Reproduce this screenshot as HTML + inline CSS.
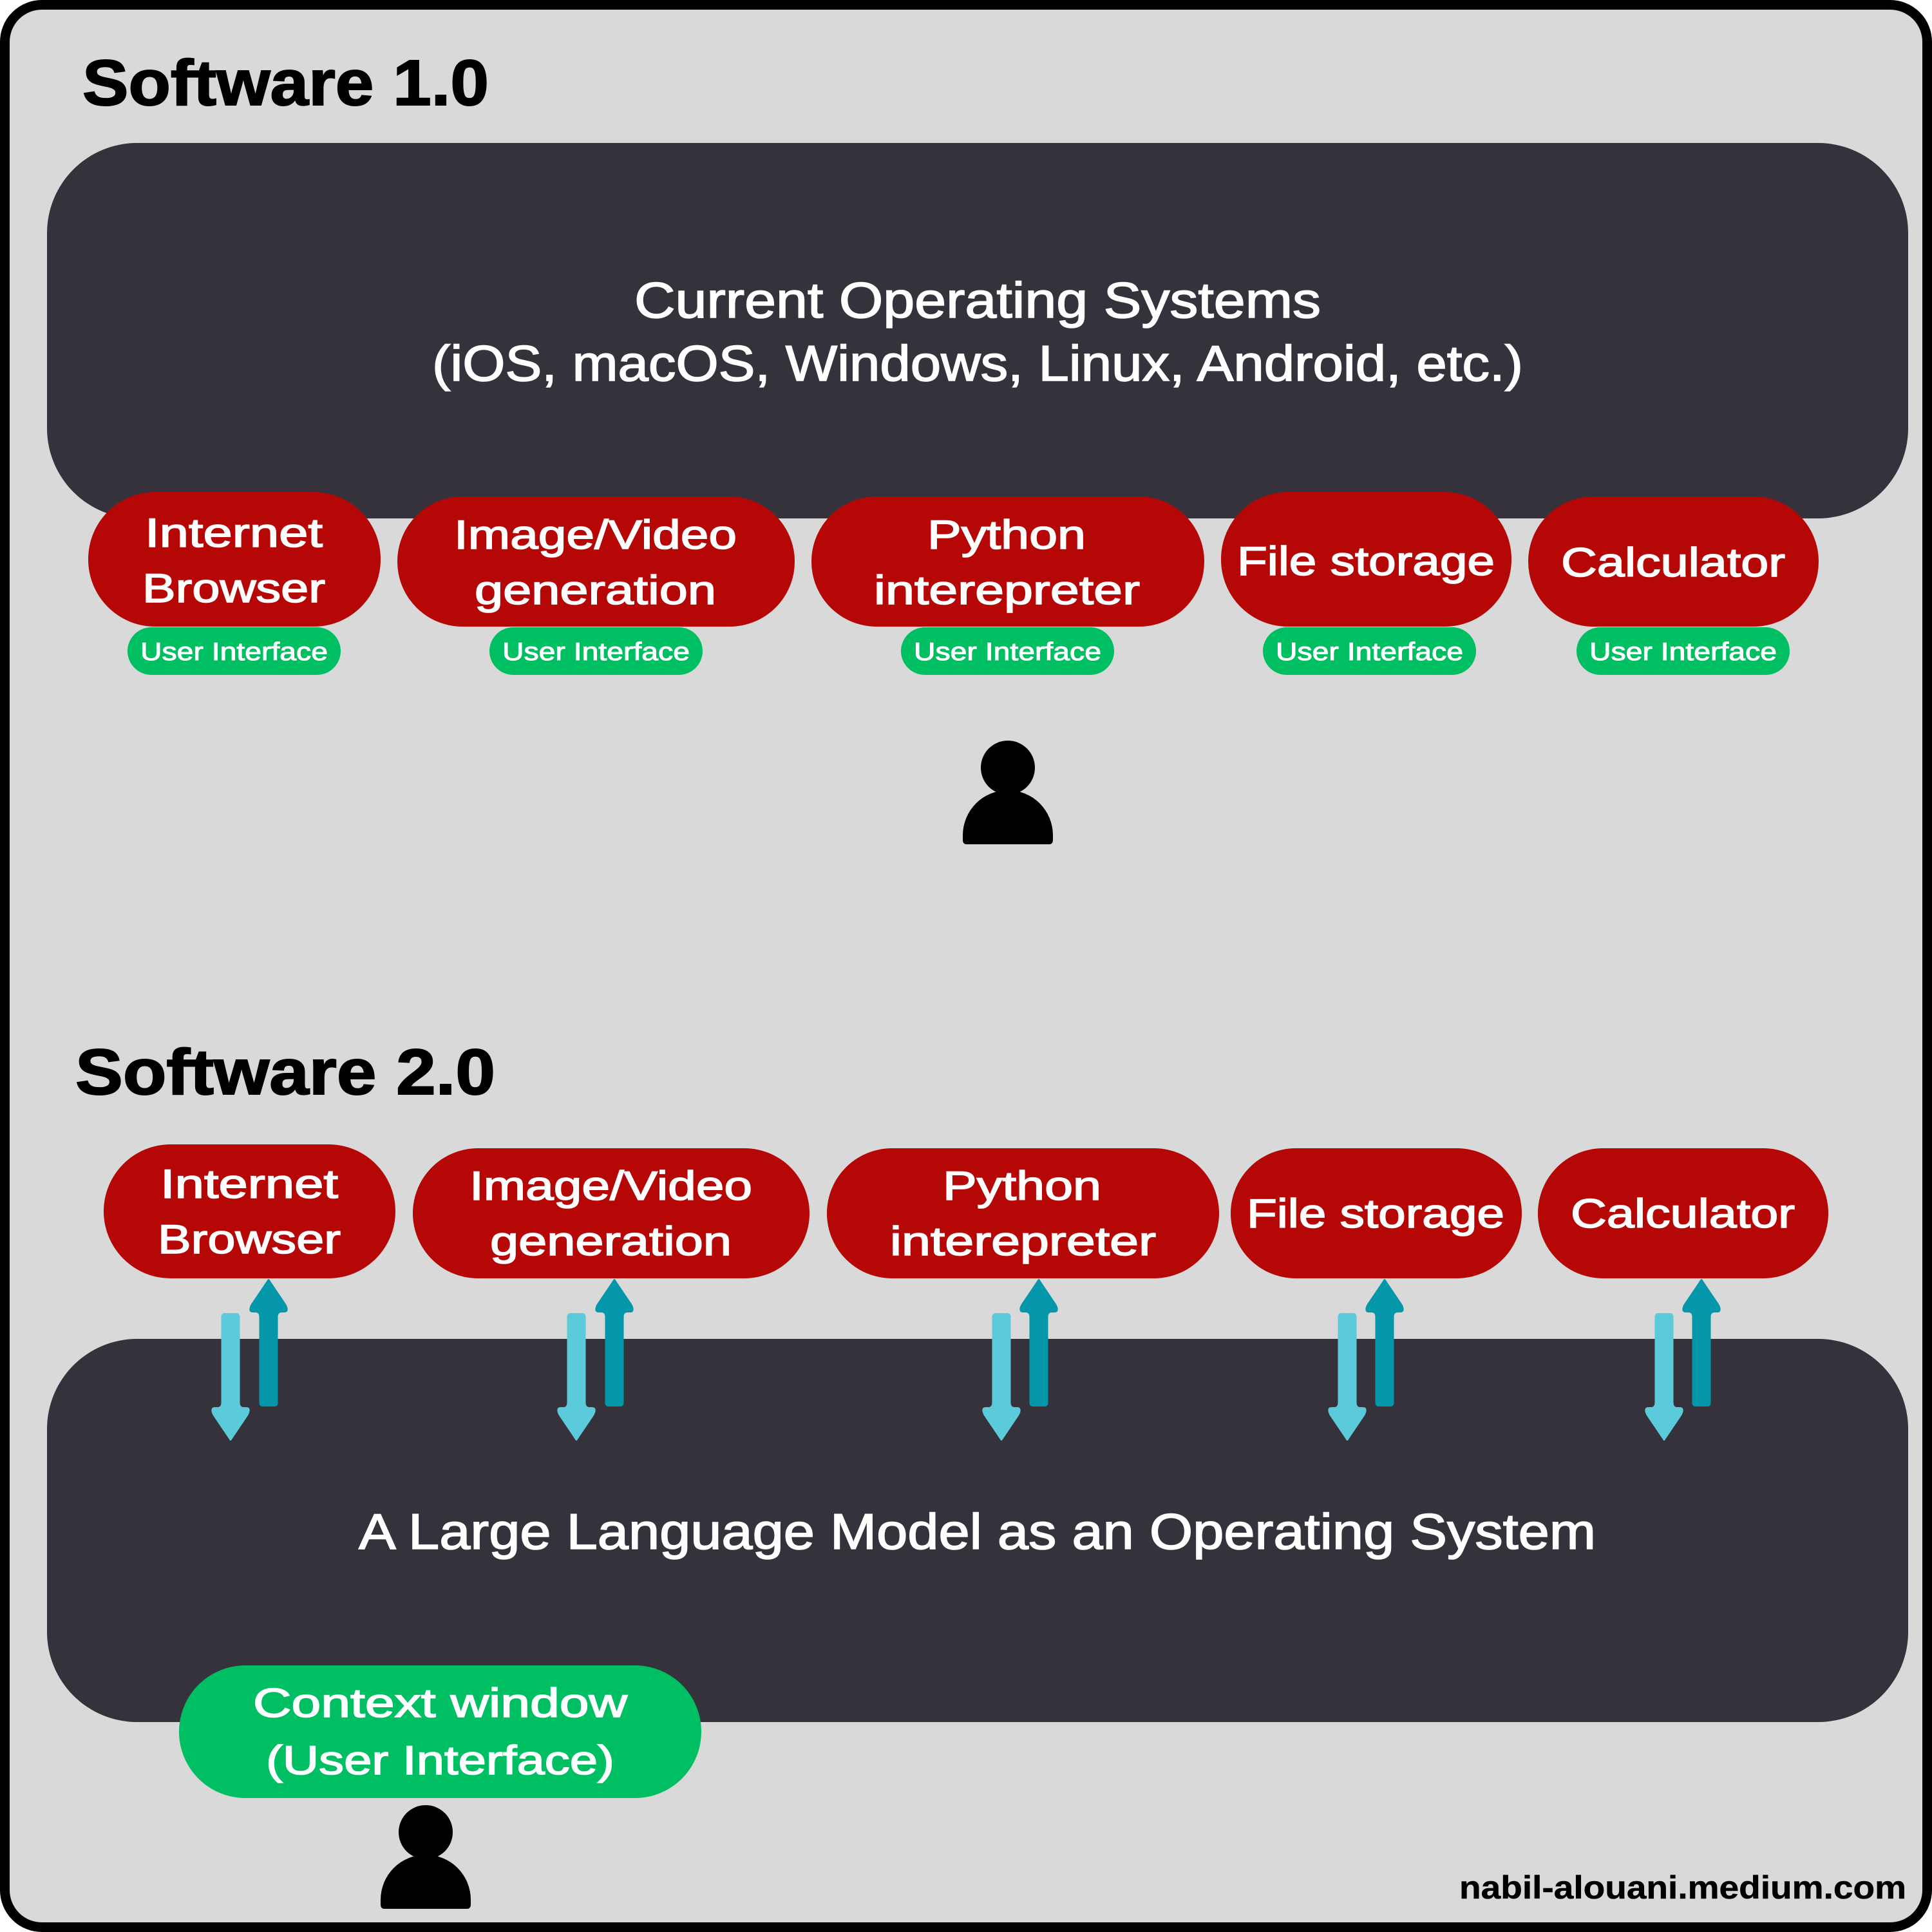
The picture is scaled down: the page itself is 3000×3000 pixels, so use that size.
<!DOCTYPE html>
<html><head><meta charset="utf-8"><style>
html,body{margin:0;padding:0;background:#fff}
svg{display:block}
text{font-family:"Liberation Sans",sans-serif;fill:#fff;stroke:#fff;stroke-width:1.6px}
.t{font-weight:700;fill:#000;stroke:#000;font-size:100px;stroke-width:2px}
.p{font-size:78px}.r{font-size:63px}.s{font-size:39px;stroke-width:1px}
.f{font-weight:700;fill:#000;stroke:#000;stroke-width:.5px;font-size:50px}
</style></head><body>
<svg width="3000" height="3000" viewBox="0 0 3000 3000" xmlns="http://www.w3.org/2000/svg">
<defs>
<path id="a" d="M-2,3Q0,-1 2,3L27,40Q31,47 29,51Q28,53 24,53L19,53Q14.5,54 14.5,60L14.5,193Q14.5,199 9,199L-9,199Q-14.5,199 -14.5,193L-14.5,60Q-14.5,54 -19,53L-24,53Q-28,53 -29,51Q-31,47 -27,40Z"/>
<g id="u"><circle cx="0" cy="43" r="42"/><path d="M-70,148A70,70 0 0 1 70,148L70,155Q70,162 64,162L-64,162Q-70,162 -70,155Z"/></g>
</defs>
<rect x="7.5" y="7.5" width="2985" height="2985" rx="57.5" fill="#d9d9d9" stroke="#000" stroke-width="15"/>

<text class="t" x="128" y="163" textLength="631" lengthAdjust="spacingAndGlyphs">Software 1.0</text>
<rect x="73" y="222" width="2890" height="583" rx="140" fill="#35323c"/>
<text class="p" x="985" y="493" textLength="1066" lengthAdjust="spacingAndGlyphs">Current Operating Systems</text>
<text class="p" x="671" y="591" textLength="1694" lengthAdjust="spacingAndGlyphs">(iOS, macOS, Windows, Linux, Android, etc.)</text>

<g fill="#b60707">
<rect x="137" y="764" width="454" height="209" rx="104"/>
<rect x="617" y="771" width="617" height="202" rx="101"/>
<rect x="1260" y="771" width="610" height="202" rx="101"/>
<rect x="1896" y="764" width="451" height="209" rx="104"/>
<rect x="2373" y="771" width="451" height="202" rx="101"/>
</g>
<text class="r" x="225" y="849" textLength="276" lengthAdjust="spacingAndGlyphs">Internet</text>
<text class="r" x="221" y="935" textLength="284" lengthAdjust="spacingAndGlyphs">Browser</text>
<text class="r" x="705" y="852" textLength="439" lengthAdjust="spacingAndGlyphs">Image/Video</text>
<text class="r" x="737" y="938" textLength="375" lengthAdjust="spacingAndGlyphs">generation</text>
<text class="r" x="1440" y="852" textLength="246" lengthAdjust="spacingAndGlyphs">Python</text>
<text class="r" x="1357" y="938" textLength="413" lengthAdjust="spacingAndGlyphs">interepreter</text>
<text class="r" x="1921" y="893" textLength="400" lengthAdjust="spacingAndGlyphs">File storage</text>
<text class="r" x="2424" y="895" textLength="348" lengthAdjust="spacingAndGlyphs">Calculator</text>

<g fill="#00bf63">
<rect x="198" y="974" width="331" height="74" rx="37"/>
<rect x="760" y="974" width="331" height="74" rx="37"/>
<rect x="1399" y="974" width="331" height="74" rx="37"/>
<rect x="1961" y="974" width="331" height="74" rx="37"/>
<rect x="2448" y="974" width="331" height="74" rx="37"/>
</g>
<text class="s" x="218" y="1025" textLength="291" lengthAdjust="spacingAndGlyphs">User Interface</text>
<text class="s" x="780" y="1025" textLength="291" lengthAdjust="spacingAndGlyphs">User Interface</text>
<text class="s" x="1419" y="1025" textLength="291" lengthAdjust="spacingAndGlyphs">User Interface</text>
<text class="s" x="1981" y="1025" textLength="291" lengthAdjust="spacingAndGlyphs">User Interface</text>
<text class="s" x="2468" y="1025" textLength="291" lengthAdjust="spacingAndGlyphs">User Interface</text>

<use href="#u" transform="translate(1565,1149)"/>

<text class="t" x="117" y="1699" textLength="652" lengthAdjust="spacingAndGlyphs">Software 2.0</text>
<rect x="73" y="2079" width="2890" height="595" rx="140" fill="#35323c"/>
<text class="p" x="557" y="2405" textLength="1921" lengthAdjust="spacingAndGlyphs">A Large Language Model as an Operating System</text>

<g fill="#b60707">
<rect x="161" y="1777" width="453" height="208" rx="104"/>
<rect x="641" y="1783" width="616" height="202" rx="101"/>
<rect x="1284" y="1783" width="609" height="202" rx="101"/>
<rect x="1911" y="1783" width="452" height="202" rx="101"/>
<rect x="2388" y="1783" width="451" height="202" rx="101"/>
</g>
<text class="r" x="249" y="1860" textLength="276" lengthAdjust="spacingAndGlyphs">Internet</text>
<text class="r" x="245" y="1946" textLength="284" lengthAdjust="spacingAndGlyphs">Browser</text>
<text class="r" x="729" y="1863" textLength="439" lengthAdjust="spacingAndGlyphs">Image/Video</text>
<text class="r" x="761" y="1949" textLength="375" lengthAdjust="spacingAndGlyphs">generation</text>
<text class="r" x="1464" y="1863" textLength="246" lengthAdjust="spacingAndGlyphs">Python</text>
<text class="r" x="1382" y="1949" textLength="413" lengthAdjust="spacingAndGlyphs">interepreter</text>
<text class="r" x="1936" y="1906" textLength="400" lengthAdjust="spacingAndGlyphs">File storage</text>
<text class="r" x="2439" y="1906" textLength="348" lengthAdjust="spacingAndGlyphs">Calculator</text>

<g fill="#5bcbdc">
<use href="#a" transform="translate(358,2238) scale(1,-1)"/>
<use href="#a" transform="translate(895,2238) scale(1,-1)"/>
<use href="#a" transform="translate(1555,2238) scale(1,-1)"/>
<use href="#a" transform="translate(2092,2238) scale(1,-1)"/>
<use href="#a" transform="translate(2584,2238) scale(1,-1)"/>
</g>
<g fill="#0397a9">
<use href="#a" transform="translate(417,1985)"/>
<use href="#a" transform="translate(954,1985)"/>
<use href="#a" transform="translate(1613,1985)"/>
<use href="#a" transform="translate(2150,1985)"/>
<use href="#a" transform="translate(2642,1985)"/>
</g>

<rect x="278" y="2586" width="811" height="206" rx="103" fill="#00bf63"/>
<text class="r" x="393" y="2666" textLength="581" lengthAdjust="spacingAndGlyphs">Context window</text>
<text class="r" x="413" y="2755" textLength="541" lengthAdjust="spacingAndGlyphs">(User Interface)</text>

<use href="#u" transform="translate(661,2802)"/>

<text class="f" x="2266" y="2948" textLength="694" lengthAdjust="spacingAndGlyphs">nabil-alouani.medium.com</text>
</svg>
</body></html>
